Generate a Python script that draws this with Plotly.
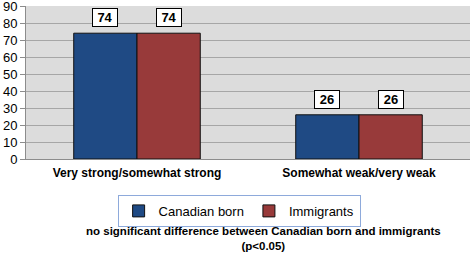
import plotly.graph_objects as go

categories = ["Very strong/somewhat strong", "Somewhat weak/very weak"]
canadian_born = [74, 26]
immigrants = [74, 26]
y_ticks = [0, 10, 20, 30, 40, 50, 60, 70, 80, 90]

FONT = "Liberation Sans, Arial, sans-serif"

fig = go.Figure()
fig.add_bar(x=categories, y=canadian_born, name="Canadian born",
            marker=dict(color="#1f4a84", line=dict(color="#111111", width=1)))
fig.add_bar(x=categories, y=immigrants, name="Immigrants",
            marker=dict(color="#983a3a", line=dict(color="#111111", width=1)))

# data label boxes
for i, c in enumerate(categories):
    for series, xs in [(canadian_born, -1), (immigrants, 1)]:
        fig.add_annotation(x=i + xs * 0.142, y=series[i], xref="x", yref="y",
                           text="<b>%d</b>" % series[i], showarrow=False,
                           yanchor="bottom", yshift=6,
                           font=dict(family=FONT, size=13, color="black"),
                           bgcolor="white", bordercolor="black", borderwidth=1,
                           borderpad=1, width=22)

fig.add_annotation(x=0.535, y=-0.42, xref="paper", yref="paper",
                   text="<b>no significant difference between Canadian born and immigrants</b><br><b>(p<0.05)</b>",
                   showarrow=False, yanchor="top",
                   font=dict(family=FONT, size=11.5, color="black"))

fig.update_layout(
    width=472, height=257,
    margin=dict(l=26, r=2, t=6, b=98),
    paper_bgcolor="white",
    plot_bgcolor="#dcdcdc",
    barmode="group",
    bargap=0.43,
    bargroupgap=0,
    font=dict(family=FONT, size=12, color="black"),
    showlegend=True,
    legend=dict(orientation="h", x=0.48, xanchor="center", y=-0.235, yanchor="top",
                bordercolor="#8eaadb", borderwidth=1, bgcolor="white",
                font=dict(family=FONT, size=13, color="black"),
                itemwidth=30, tracegroupgap=0),
    xaxis=dict(type="category", tickfont=dict(family=FONT, size=12, color="black"),
               tickprefix="<b>", ticksuffix="</b>", automargin=False,
               showline=True, linecolor="#8c8c8c", linewidth=1,
               ticks="", showgrid=False, ticklabelstandoff=3),
    yaxis=dict(range=[0, 90], tickvals=y_ticks, showgrid=True, gridcolor="#a6a6a6",
               gridwidth=1, showline=True, linecolor="#8c8c8c", ticks="outside",
               ticklen=5, tickcolor="#8c8c8c", zeroline=False, automargin=False,
               ticklabeloverflow="allow",
               tickfont=dict(family=FONT, size=13, color="black")),
)

fig.write_html("out.html", config={"displayModeBar": False},
               post_script="document.body.style.margin='0';")
